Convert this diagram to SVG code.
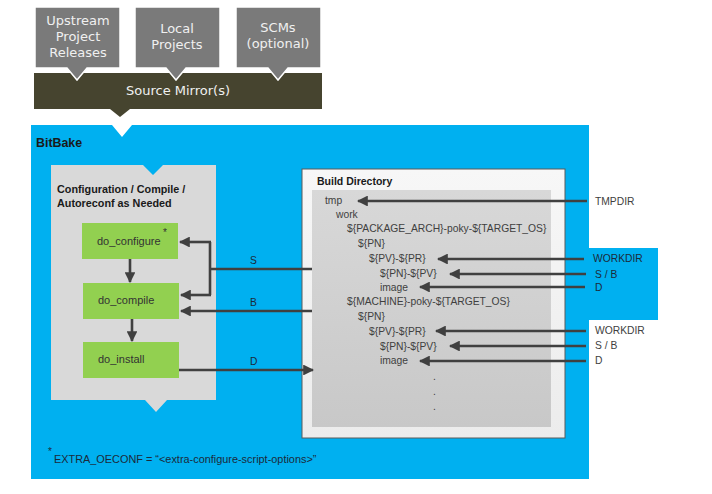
<svg xmlns="http://www.w3.org/2000/svg" width="712" height="494" viewBox="0 0 712 494">
<defs>
<style>
.src{fill:#7a7a7a;stroke:#ffffff;stroke-width:1.5}
.srct{font-family:"DejaVu Sans",sans-serif;font-size:13px;fill:#f0f0f0;text-anchor:middle}
.t{font-family:"Liberation Sans",Arial,sans-serif;font-size:10.3px;fill:#404040}
.tb{font-family:"Liberation Sans",Arial,sans-serif;font-weight:bold;fill:#1a1a1a}
.lbl{font-family:"Liberation Sans",Arial,sans-serif;font-size:10.3px;fill:#1c2a3a}
.task{fill:#92d050}
.tt{font-family:"Liberation Sans",Arial,sans-serif;font-size:11px;fill:#333333}
.c{fill:none;stroke:#404040;stroke-width:2.6}
</style>
<marker id="ah" viewBox="0 0 10 10" refX="9" refY="5" markerWidth="4.2" markerHeight="4.2" orient="auto" markerUnits="strokeWidth">
<path d="M0,0 L10,5 L0,10 Z" fill="#404040"/>
</marker>
<linearGradient id="bdg" x1="0" y1="0" x2="0" y2="1">
<stop offset="0" stop-color="#f7f7f7"/>
<stop offset="1" stop-color="#ececec"/>
</linearGradient>
<linearGradient id="bdi" x1="0" y1="0" x2="0" y2="1">
<stop offset="0" stop-color="#d8d8d8"/>
<stop offset="1" stop-color="#c8c8c8"/>
</linearGradient>
</defs>
<rect width="712" height="494" fill="#ffffff"/>

<!-- Source Mirror bar -->
<g id="source-mirror">
<path d="M34,73 H322 V109 H130 L120,117 L110,109 H34 Z" fill="#46442f"/>
<text class="srct" x="178" y="95">Source Mirror(s)</text>
</g>

<g id="upstream">
<path class="src" d="M35,7 H120 V68 H87 L77,80 L67,68 H35 Z"/>
<text class="srct" x="78" y="25">Upstream</text>
<text class="srct" x="78" y="41">Project</text>
<text class="srct" x="78" y="57">Releases</text>
</g>
<g id="local">
<path class="src" d="M135,7 H220 V68 H186 L176,80 L166,68 H135 Z"/>
<text class="srct" x="177" y="33">Local</text>
<text class="srct" x="177" y="49">Projects</text>
</g>
<g id="scms">
<path class="src" d="M236,7 H321 V68 H288 L278,80 L268,68 H236 Z"/>
<text class="srct" x="278" y="32">SCMs</text>
<text class="srct" x="278" y="48">(optional)</text>
</g>

<!-- BitBake region -->
<g id="bitbake">
<path d="M31,125 H112 L122,137 L132,125 H589 V248 H658 V320 H589 V479 H31 Z" fill="#00b0f0"/>
<text class="tb" x="36" y="147" style="font-size:12.4px">BitBake</text>
</g>

<!-- Configuration box -->
<g id="config">
<path d="M51,165 H143 L153,175 L163,165 H216 V400 H167 L156,412 L145,400 H51 Z" fill="#d9d9d9"/>
<text class="tb" x="57" y="193" style="font-size:10.8px">Configuration / Compile /</text>
<text class="tb" x="57" y="207" style="font-size:10.8px">Autoreconf as Needed</text>
</g>

<g id="do_configure">
<rect class="task" x="82" y="223" width="96" height="36"/>
<text class="tt" x="97" y="245">do_configure</text>
<text class="tt" x="163" y="236" style="font-size:10px">*</text>
</g>
<g id="do_compile">
<rect class="task" x="83" y="283" width="96" height="36"/>
<text class="tt" x="98" y="304">do_compile</text>
</g>
<g id="do_install">
<rect class="task" x="83" y="342" width="96" height="36"/>
<text class="tt" x="98" y="363">do_install</text>
</g>

<!-- Build Directory -->
<g id="build-directory">
<rect x="302" y="169" width="263" height="269" fill="url(#bdg)" stroke="#5a5a5a" stroke-width="1"/>
<rect x="312" y="190" width="239" height="237" fill="url(#bdi)"/>
<text class="tb" x="317" y="185" style="font-size:10.5px">Build Directory</text>
<text class="t" x="325" y="204">tmp</text>
<text class="t" x="336" y="218">work</text>
<text class="t" x="347" y="232">${PACKAGE_ARCH}-poky-${TARGET_OS}</text>
<text class="t" x="358" y="247">${PN}</text>
<text class="t" x="369" y="262">${PV}-${PR}</text>
<text class="t" x="380" y="277">${PN}-${PV}</text>
<text class="t" x="380" y="291">image</text>
<text class="t" x="347" y="305">${MACHINE}-poky-${TARGET_OS}</text>
<text class="t" x="358" y="320">${PN}</text>
<text class="t" x="369" y="335">${PV}-${PR}</text>
<text class="t" x="380" y="350">${PN}-${PV}</text>
<text class="t" x="380" y="364">image</text>
<text class="t" x="433" y="380">.</text>
<text class="t" x="433" y="395">.</text>
<text class="t" x="433" y="410">.</text>
</g>

<!-- right-side labels -->
<g id="dir-labels">
<text class="t" x="595" y="205">TMPDIR</text>
<text class="lbl" x="593" y="262">WORKDIR</text>
<text class="lbl" x="595" y="278">S / B</text>
<text class="lbl" x="595" y="291">D</text>
<text class="t" x="595" y="334">WORKDIR</text>
<text class="t" x="595" y="349">S / B</text>
<text class="t" x="595" y="364">D</text>
</g>

<!-- footnote -->
<g id="footnote">
<text class="lbl" x="48" y="455" style="font-size:10px">*</text>
<text class="lbl" x="54" y="463" style="font-size:10.9px">EXTRA_OECONF = “&lt;extra-configure-script-options&gt;”</text>
</g>

<!-- connectors -->
<g id="connectors">
<path class="c" d="M130,259 V282" marker-end="url(#ah)"/>
<path class="c" d="M132,319 V341" marker-end="url(#ah)"/>
<path class="c" d="M312,269 H210"/>
<path class="c" d="M210,242 V295"/>
<path class="c" d="M211,242 H180" marker-end="url(#ah)"/>
<path class="c" d="M211,295 H181" marker-end="url(#ah)"/>
<path class="c" d="M312,311 H181" marker-end="url(#ah)"/>
<path class="c" d="M179,370 H313" marker-end="url(#ah)"/>
<path class="c" d="M587,201 H358" marker-end="url(#ah)"/>
<path class="c" d="M584,259 H438" marker-end="url(#ah)"/>
<path class="c" d="M586,274 H450" marker-end="url(#ah)"/>
<path class="c" d="M585,287 H420" marker-end="url(#ah)"/>
<path class="c" d="M586,331 H436" marker-end="url(#ah)"/>
<path class="c" d="M586,346 H450" marker-end="url(#ah)"/>
<path class="c" d="M586,361 H420" marker-end="url(#ah)"/>
<text class="lbl" x="250" y="264">S</text>
<text class="lbl" x="250" y="306">B</text>
<text class="lbl" x="250" y="365">D</text>
</g>
</svg>
